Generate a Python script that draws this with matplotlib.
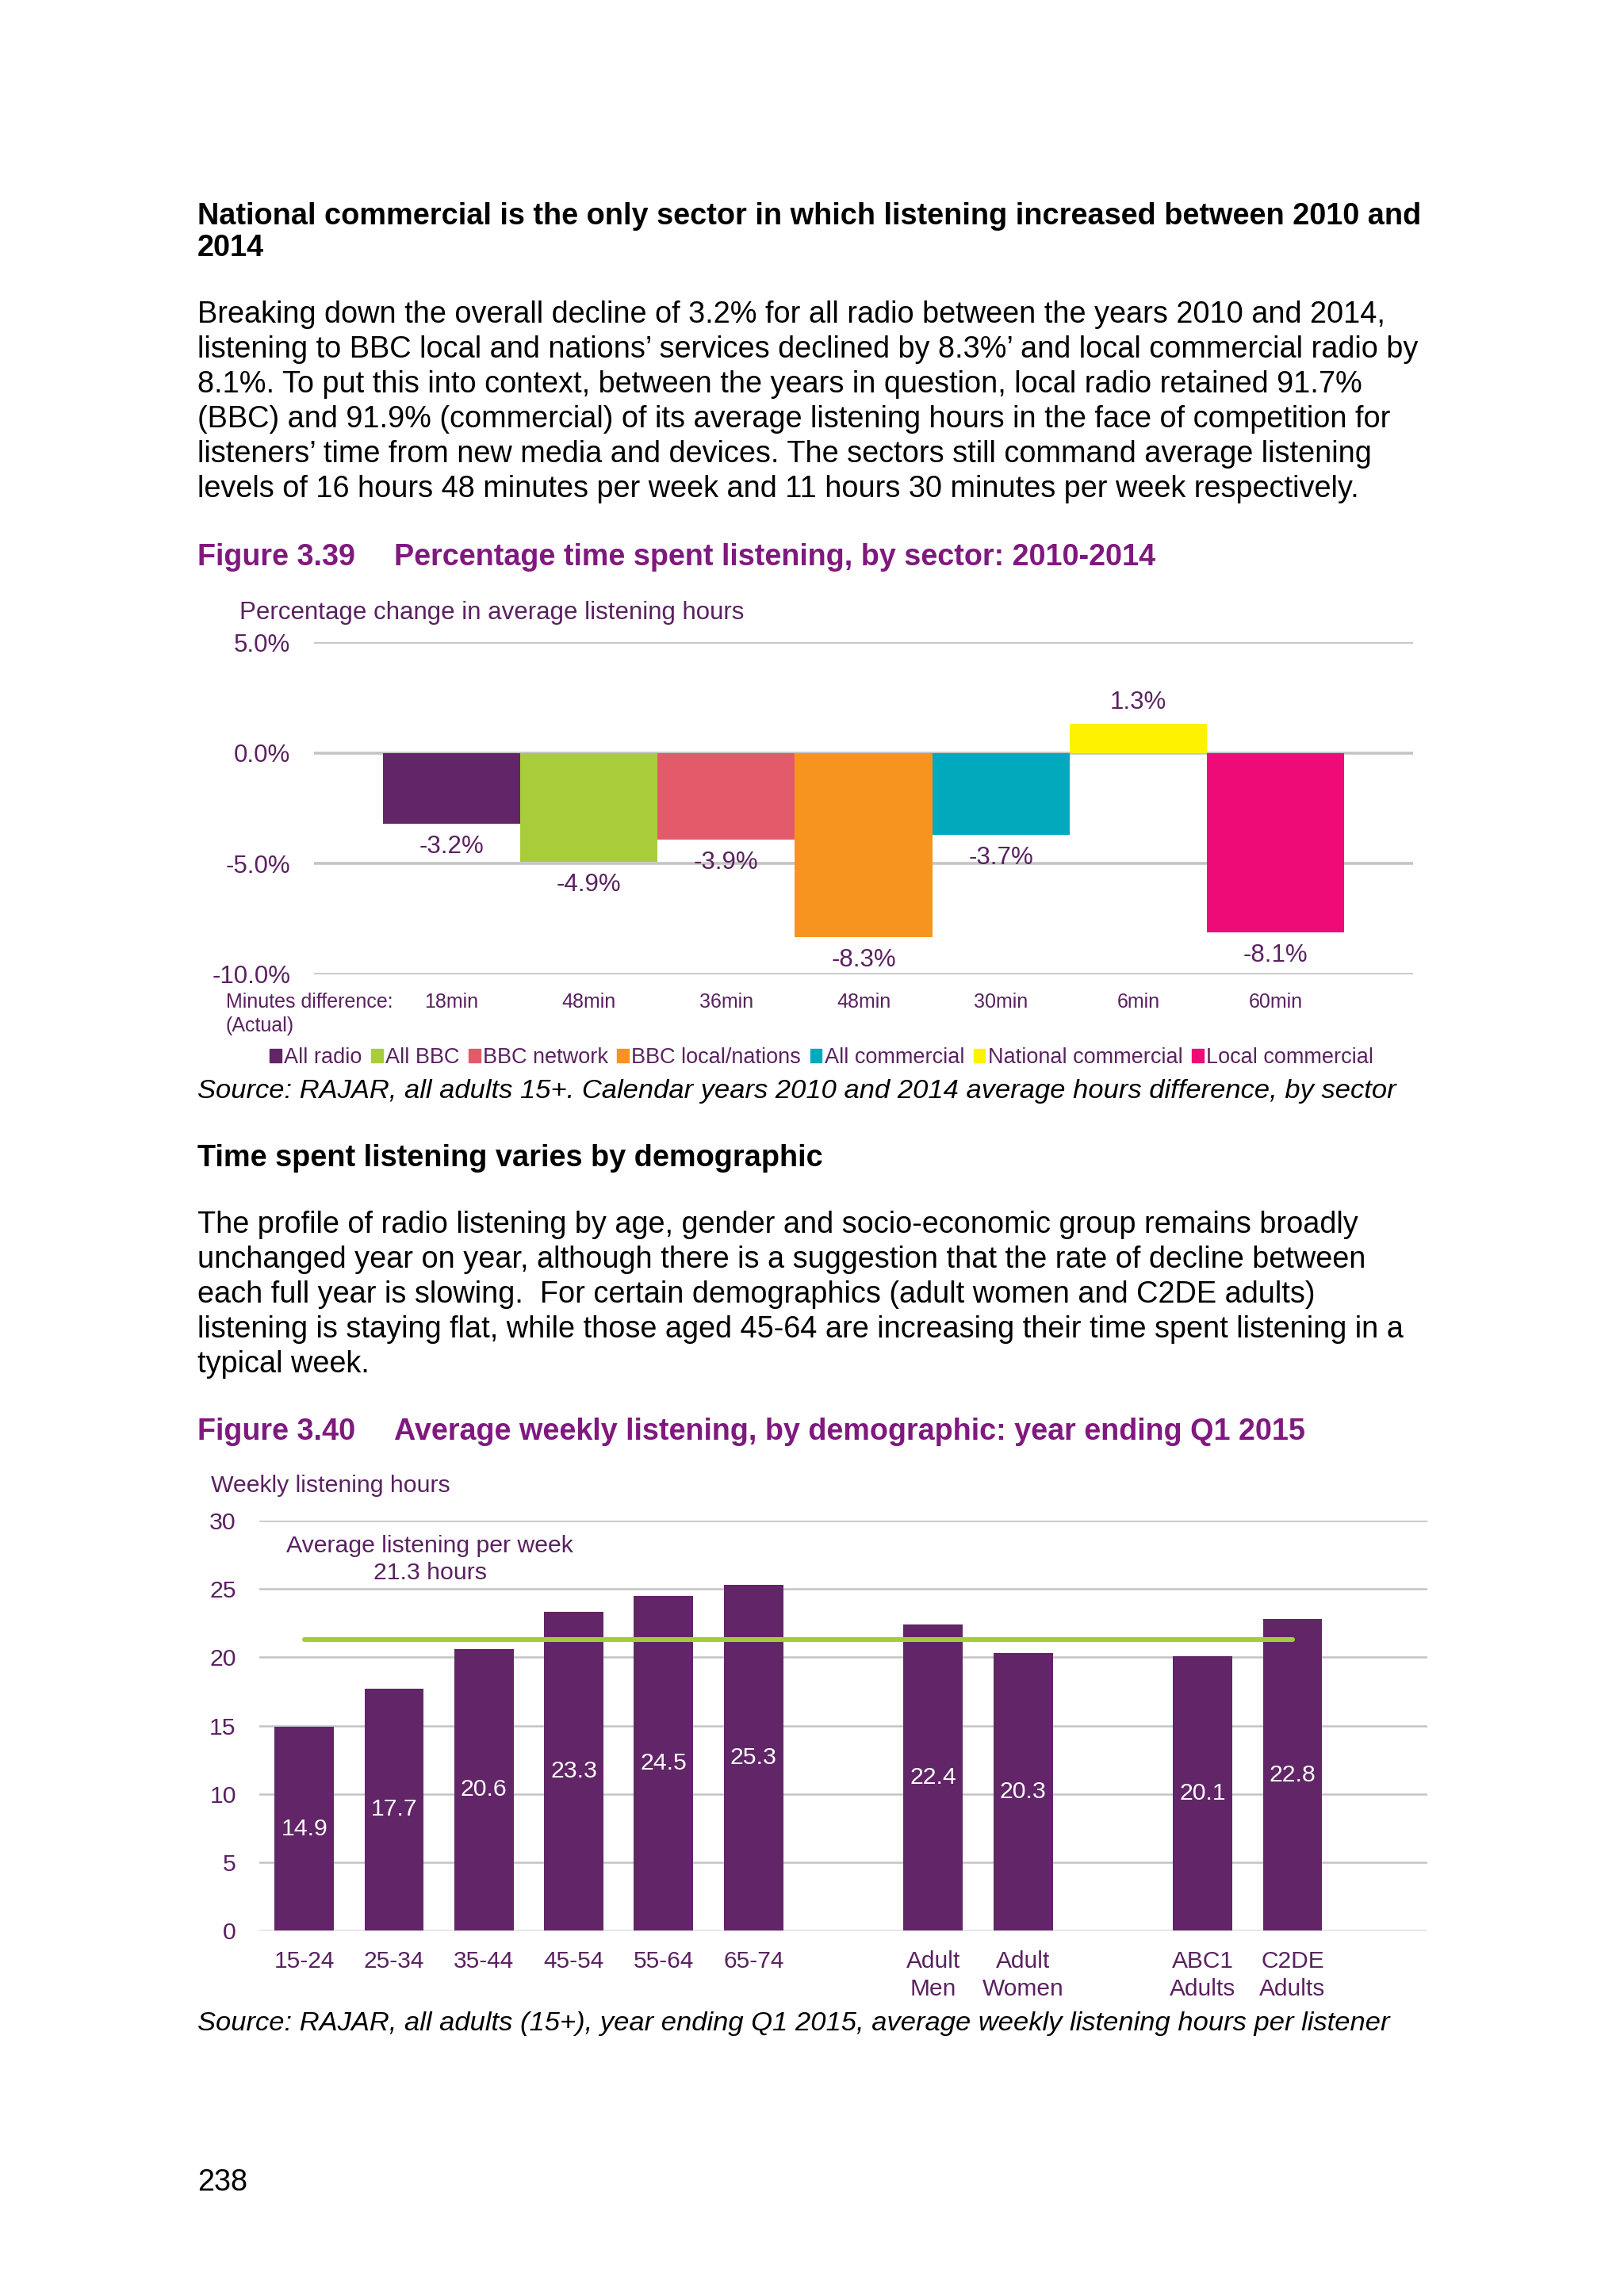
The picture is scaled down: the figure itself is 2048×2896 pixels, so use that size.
"""Ofcom-style report page: sector change in listening and weekly listening by demographic."""
import matplotlib
matplotlib.use("Agg")
import matplotlib.pyplot as plt

plt.rcParams['font.family'] = ['Liberation Sans', 'DejaVu Sans']

# ---- data: figure 3.39 ----
sectors = ['All radio', 'All BBC', 'BBC network', 'BBC local/nations',
           'All commercial', 'National commercial', 'Local commercial']
pct_change = [-3.2, -4.9, -3.9, -8.3, -3.7, 1.3, -8.1]
minutes_diff = ['18min', '48min', '36min', '48min', '30min', '6min', '60min']
sector_colors = ['#622567', '#A9CD3A', '#E35A6B', '#F7941F', '#00AABD', '#FFF200', '#EE0B77']
pct_ticks = [5.0, 0.0, -5.0, -10.0]

# ---- data: figure 3.40 ----
demo_groups = [
    ['15-24', '25-34', '35-44', '45-54', '55-64', '65-74'],
    ['Adult\nMen', 'Adult\nWomen'],
    ['ABC1\nAdults', 'C2DE\nAdults'],
]
weekly_hours = [14.9, 17.7, 20.6, 23.3, 24.5, 25.3, 22.4, 20.3, 20.1, 22.8]
average_hours = 21.3
hour_ticks = [0, 5, 10, 15, 20, 25, 30]

# ---- page text ----
heading1 = ['National commercial is the only sector in which listening increased between 2010 and',
            '2014']
para1 = [
    'Breaking down the overall decline of 3.2% for all radio between the years 2010 and 2014,',
    'listening to BBC local and nations\u2019 services declined by 8.3%\u2019 and local commercial radio by',
    '8.1%. To put this into context, between the years in question, local radio retained 91.7%',
    '(BBC) and 91.9% (commercial) of its average listening hours in the face of competition for',
    'listeners\u2019 time from new media and devices. The sectors still command average listening',
    'levels of 16 hours 48 minutes per week and 11 hours 30 minutes per week respectively.',
]
heading2 = 'Time spent listening varies by demographic'
para2 = [
    'The profile of radio listening by age, gender and socio-economic group remains broadly',
    'unchanged year on year, although there is a suggestion that the rate of decline between',
    'each full year is slowing.  For certain demographics (adult women and C2DE adults)',
    'listening is staying flat, while those aged 45-64 are increasing their time spent listening in a',
    'typical week.',
]

W, H = 2048, 2896
TITLE_PURPLE = '#80197F'
CHART_PURPLE = '#5A2160'
GRID = '#C4C4C4'
BODY = 27.3
TITLE = 27.2
SOURCE = 24.8

fig = plt.figure(figsize=(W / 100, H / 100), dpi=100)
fig.patch.set_facecolor('white')


def ftext(x, y, s, **kw):
    """Place text using page pixel coordinates (y from top)."""
    kw.setdefault('va', 'center')
    return fig.text(x / W, 1 - y / H, s, **kw)


def px_axes(left, top, right, bottom):
    return fig.add_axes([left / W, 1 - bottom / H, (right - left) / W, (bottom - top) / H])


# headings and paragraphs
for s, y in zip(heading1, [273, 313]):
    ftext(249, y, s, fontsize=BODY, fontweight='bold', color='black')
for i, s in enumerate(para1):
    ftext(249, 397 + i * 44, s, fontsize=BODY, color='black')

ftext(249, 703, 'Figure 3.39', fontsize=TITLE, fontweight='bold', color=TITLE_PURPLE)
ftext(497, 703, 'Percentage time spent listening, by sector: 2010-2014',
      fontsize=TITLE, fontweight='bold', color=TITLE_PURPLE)

# ---- chart 1 ----
ax1 = px_axes(396, 810, 1782, 1229)
x1 = list(range(len(sectors)))
ax1.bar(x1, pct_change, width=1.0, color=sector_colors, zorder=3)
ax1.set_xlim(-1, len(sectors))
ax1.set_ylim(-10, 5)
ax1.set_yticks(pct_ticks)
ax1.set_yticklabels([f'{t:.1f}%' for t in pct_ticks])
ax1.tick_params(axis='y', length=0, pad=21.5, labelsize=22.5, labelcolor=CHART_PURPLE)
ax1.set_xticks([])
for sp in ax1.spines.values():
    sp.set_visible(False)
ax1.yaxis.grid(True, color=GRID, linewidth=2.6, zorder=0)
ax1.set_axisbelow(True)
for xi, v in zip(x1, pct_change):
    off = 20 if v >= 0 else -21
    ax1.annotate(f'{v:.1f}%', (xi, v), xytext=(0, off), textcoords='offset points',
                 ha='center', va='center', fontsize=22.5, color=CHART_PURPLE)
for xi, m in zip(x1, minutes_diff):
    ax1.text(xi, -11.25, m, ha='center', va='center', fontsize=18,
             color=CHART_PURPLE, clip_on=False)
ftext(285, 1264, 'Minutes difference:', fontsize=18, color=CHART_PURPLE)
ftext(285, 1294, '(Actual)', fontsize=18, color=CHART_PURPLE)
ftext(302, 773, 'Percentage change in average listening hours', fontsize=22.5, color=CHART_PURPLE)

handles = [plt.Rectangle((0, 0), 1, 1, color=c) for c in sector_colors]
fig.legend(handles, sectors, loc='center', bbox_to_anchor=(1036 / W, 1 - 1334 / H),
           ncol=len(sectors), frameon=False, fontsize=19.5, labelcolor=CHART_PURPLE,
           handlelength=0.55, handleheight=0.55, handletextpad=0.12, columnspacing=0.42,
           borderpad=0, borderaxespad=0)

ftext(249, 1377, 'Source: RAJAR, all adults 15+. Calendar years 2010 and 2014 average hours difference, by sector',
      fontsize=SOURCE, style='italic', color='black')

ftext(249, 1461, heading2, fontsize=BODY, fontweight='bold', color='black')
for i, s in enumerate(para2):
    ftext(249, 1545 + i * 44, s, fontsize=BODY, color='black')

ftext(249, 1806, 'Figure 3.40', fontsize=TITLE, fontweight='bold', color=TITLE_PURPLE)
ftext(497, 1806, 'Average weekly listening, by demographic: year ending Q1 2015',
      fontsize=TITLE, fontweight='bold', color=TITLE_PURPLE)

# ---- chart 2 ----
ax2 = px_axes(327, 1918, 1800, 2435)
x2, labels2 = [], []
pos = 0
for grp in demo_groups:
    for lab in grp:
        x2.append(pos)
        labels2.append(lab)
        pos += 1
    pos += 1  # one empty slot between groups
ax2.bar(x2, weekly_hours, width=0.66, color='#622567', zorder=3)
ax2.plot([x2[0], x2[-1]], [average_hours, average_hours], color='#A6CB3A',
         linewidth=4.4, solid_capstyle='round', zorder=4)
ax2.set_xlim(-0.5, x2[-1] + 1.5)
ax2.set_ylim(0, 30)
ax2.set_yticks(hour_ticks)
ax2.tick_params(axis='y', length=0, pad=21, labelsize=21.8, labelcolor=CHART_PURPLE)
ax2.set_xticks(x2)
ax2.set_xticklabels(labels2, linespacing=1.3)
ax2.tick_params(axis='x', length=0, pad=18, labelsize=21.5, labelcolor=CHART_PURPLE)
for sp in ax2.spines.values():
    sp.set_visible(False)
ax2.yaxis.grid(True, color=GRID, linewidth=1.8, zorder=0)
ax2.set_axisbelow(True)
for xi, v in zip(x2, weekly_hours):
    ax2.text(xi, v / 2, f'{v:.1f}', ha='center', va='center', fontsize=21.8,
             color='white', zorder=5)
ax2.text(1.4, 27.15, f'Average listening per week\n{average_hours} hours', ha='center',
         va='center', fontsize=21.8, color=CHART_PURPLE, linespacing=1.3)
ftext(266, 1874, 'Weekly listening hours', fontsize=21.8, color=CHART_PURPLE)

ftext(249, 2552, 'Source: RAJAR, all adults (15+), year ending Q1 2015, average weekly listening hours per listener',
      fontsize=SOURCE, style='italic', color='black')

ftext(249, 2753, '238', fontsize=BODY, color='black')

fig.savefig('out.png', dpi=100, facecolor='white')
